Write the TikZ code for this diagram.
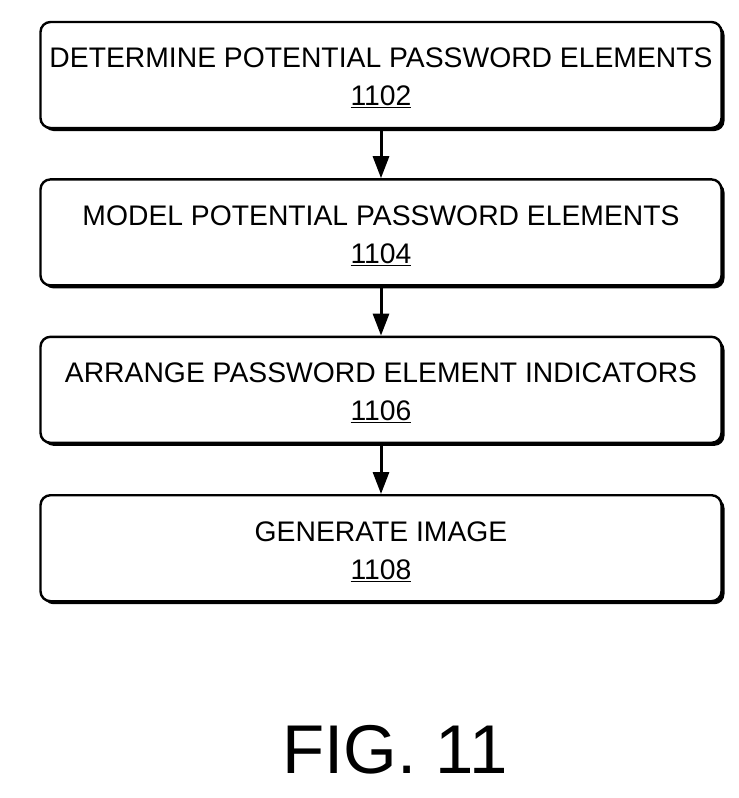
\documentclass[tikz,border=0pt]{standalone}
\usepackage{fontspec}
\setmainfont{Liberation Sans}
\usetikzlibrary{positioning, arrows.meta, shadows}

\newcommand{\toppad}{\rule{0pt}{26pt}}

\tikzset{
  stepbox/.style={draw, line width=2.4pt, rounded corners=10pt, fill=white,
    minimum width=681pt, minimum height=106pt, align=center,
    font=\fontsize{28.3}{38}\selectfont,
    drop shadow={shadow xshift=3pt, shadow yshift=-3pt, fill=black, opacity=1}},
  flow/.style={line width=3pt, -{Triangle[length=22pt, width=16pt]}}
}

\begin{document}
\begin{tikzpicture}[node distance=49pt]
  \useasboundingbox (0pt,0pt) rectangle (739pt,-798pt);
  \node[stepbox] (determine) at (381pt,-75pt) {\toppad DETERMINE POTENTIAL PASSWORD ELEMENTS\\\underline{1102}};
  \node[stepbox, below=of determine] (model) {\toppad MODEL POTENTIAL PASSWORD ELEMENTS\\\underline{1104}};
  \node[stepbox, below=of model] (arrange) {\toppad ARRANGE PASSWORD ELEMENT INDICATORS\\\underline{1106}};
  \node[stepbox, below=50pt of arrange] (generate) {\toppad GENERATE IMAGE\\\underline{1108}};
  \draw[flow] (determine.south) -- (model.north);
  \draw[flow] (model.south) -- (arrange.north);
  \draw[flow] (arrange.south) -- (generate.north);
  \node[font=\fontsize{69}{80}\selectfont] (fig) at (395pt,-750pt) {FIG. 11};
\end{tikzpicture}
\end{document}
